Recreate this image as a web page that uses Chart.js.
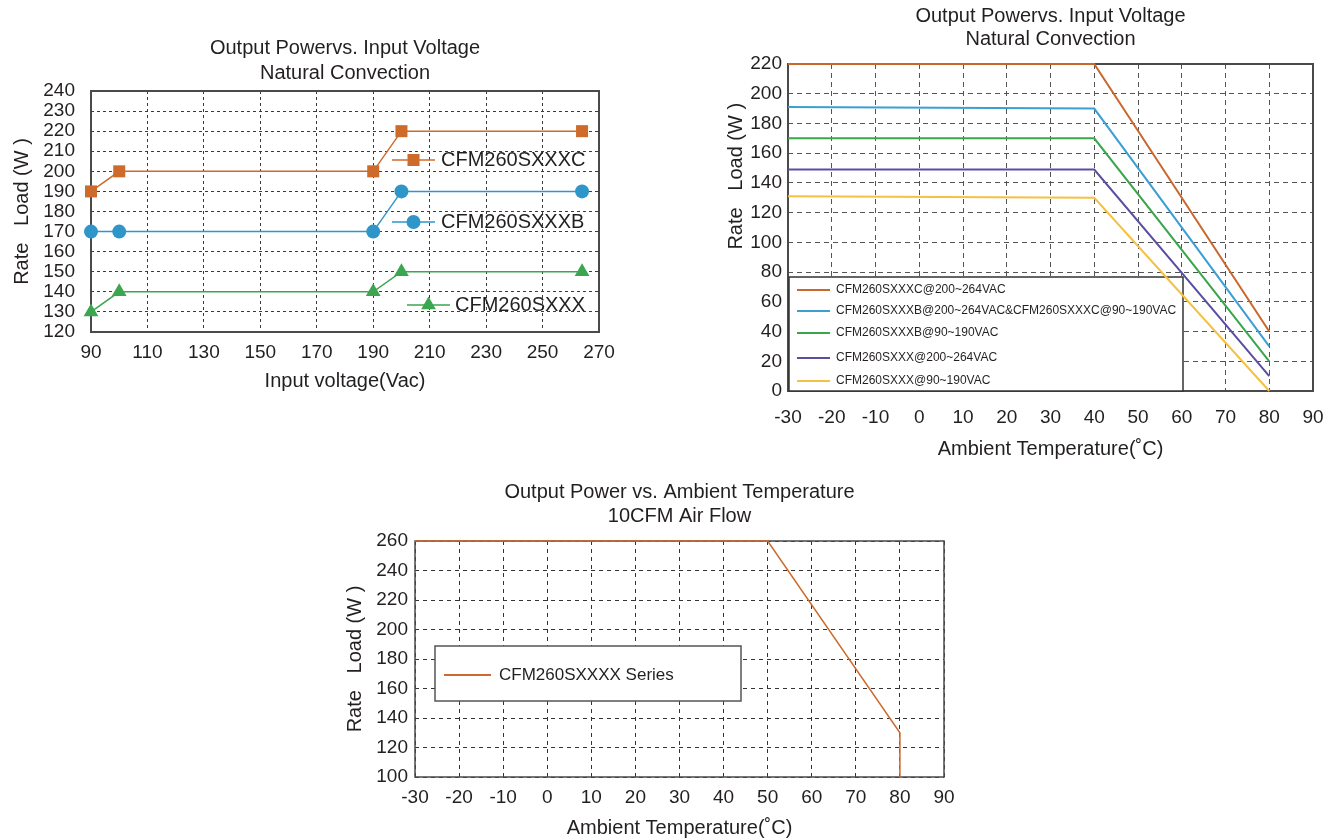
<!DOCTYPE html>
<html>
<head>
<meta charset="utf-8">
<title>CFM260S Derating Curves</title>
<script src="https://cdn.jsdelivr.net/npm/chart.js"></script>
<style>
  body { margin: 0; background: #fff; }
  .page { position: relative; width: 1340px; height: 840px; }
  canvas { position: absolute; }
  #vinChart { left: 0; top: 0; }
  #tempChart { left: 700px; top: 0; }
  #airChart { left: 330px; top: 470px; }
</style>
</head>
<body>
<div class="page">
  <canvas id="vinChart" width="640" height="400"></canvas>
  <canvas id="tempChart" width="640" height="470"></canvas>
  <canvas id="airChart" width="660" height="370"></canvas>
</div>

<script>
// ---- data: load vs input voltage (natural convection)
const vinVolts = [90, 100, 190, 200, 264];
const vinLoadC = [190, 200, 200, 220, 220];
const vinLoadB = [170, 170, 170, 190, 190];
const vinLoadX = [130, 140, 140, 150, 150];
const vinNames = ['CFM260SXXXC', 'CFM260SXXXB', 'CFM260SXXX'];

// ---- data: load vs ambient temperature (natural convection)
const ambTemps = [-30, 40, 80];
const ambLoadC200 = [220, 220, 40];
const ambLoadB200 = [191, 190, 30];
const ambLoadB90 = [170, 170, 20];
const ambLoadX200 = [149, 149, 10];
const ambLoadX90 = [131, 130, 0];
const ambNames = [
  'CFM260SXXXC@200~264VAC',
  'CFM260SXXXB@200~264VAC&CFM260SXXXC@90~190VAC',
  'CFM260SXXXB@90~190VAC',
  'CFM260SXXX@200~264VAC',
  'CFM260SXXX@90~190VAC'
];

// ---- data: load vs ambient temperature (10CFM air flow)
const airTemps = [-30, 50, 80, 80];
const airLoad = [260, 260, 130, 100];
const airName = 'CFM260SXXXX Series';

const FONT = "'Liberation Sans', Arial, sans-serif";
const INK = '#231f20';

function pts(xs, ys) {
  return xs.map((x, i) => ({ x: x, y: ys[i] }));
}

// plot frame on all four sides
const framePlugin = {
  id: 'frame',
  beforeDatasetsDraw(chart, args, o) {
    const a = chart.chartArea;
    const ctx = chart.ctx;
    ctx.save();
    ctx.strokeStyle = o.color;
    ctx.lineWidth = o.width;
    ctx.strokeRect(a.left, a.top, a.right - a.left, a.bottom - a.top);
    ctx.restore();
  }
};

// floating keys with line + marker, placed inside the plot
const pointKey = {
  id: 'pointKey',
  afterDatasetsDraw(chart, args, o) {
    if (!o.items) return;
    const ctx = chart.ctx;
    o.items.forEach(it => {
      const ds = chart.data.datasets[it.index];
      ctx.save();
      ctx.strokeStyle = ds.borderColor;
      ctx.lineWidth = ds.borderWidth;
      ctx.beginPath();
      ctx.moveTo(it.x1, it.y);
      ctx.lineTo(it.x2, it.y);
      ctx.stroke();
      ctx.fillStyle = ds.backgroundColor;
      Chart.helpers.drawPoint(ctx, {
        pointStyle: ds.pointStyle, radius: ds.pointRadius, rotation: 0, borderWidth: 0
      }, (it.x1 + it.x2) / 2, it.y);
      ctx.fillStyle = INK;
      ctx.font = o.fontSize + 'px ' + FONT;
      ctx.textBaseline = 'middle';
      ctx.fillText(ds.label, it.textX, it.y);
      ctx.restore();
    });
  }
};

// boxed legend inside the plot
const boxKey = {
  id: 'boxKey',
  beforeDatasetsDraw(chart, args, o) {
    if (!o.items) return;
    const ctx = chart.ctx;
    ctx.save();
    ctx.fillStyle = '#fff';
    ctx.fillRect(o.left, o.top, o.width, o.height);
    ctx.strokeStyle = o.border;
    ctx.lineWidth = o.borderWidth;
    ctx.strokeRect(o.left, o.top, o.width, o.height);
    ctx.font = o.fontSize + 'px ' + FONT;
    ctx.textBaseline = 'middle';
    o.items.forEach(it => {
      const ds = chart.data.datasets[it.index];
      ctx.strokeStyle = ds.borderColor;
      ctx.lineWidth = 2;
      ctx.beginPath();
      ctx.moveTo(o.lineX1, it.y);
      ctx.lineTo(o.lineX2, it.y);
      ctx.stroke();
      ctx.fillStyle = INK;
      ctx.fillText(ds.label, o.textX, it.y);
    });
    ctx.restore();
  }
};

function tickOpts(step, pad) {
  return { stepSize: step, padding: pad, autoSkip: false, maxRotation: 0,
           color: INK, font: { family: FONT, size: 19 } };
}

// ================= chart 1 =================
const ORANGE = '#cf6b2a', BLUE = '#2f96c9', GREEN = '#3aa64f';

new Chart(document.getElementById('vinChart'), {
  type: 'line',
  data: {
    datasets: [
      { label: vinNames[0], data: pts(vinVolts, vinLoadC), borderColor: ORANGE, backgroundColor: ORANGE,
        borderWidth: 1.5, pointStyle: 'rect', pointRadius: 8.5, pointBorderWidth: 0, clip: false },
      { label: vinNames[1], data: pts(vinVolts, vinLoadB), borderColor: BLUE, backgroundColor: BLUE,
        borderWidth: 1.5, pointStyle: 'circle', pointRadius: 7, pointBorderWidth: 0, clip: false },
      { label: vinNames[2], data: pts(vinVolts, vinLoadX), borderColor: GREEN, backgroundColor: GREEN,
        borderWidth: 1.5, pointStyle: 'triangle', pointRadius: 8.5, pointBorderWidth: 0, clip: false }
    ]
  },
  options: {
    responsive: false,
    animation: false,
    layout: { padding: { left: 0, right: 41, top: 0, bottom: 0 } },
    plugins: {
      legend: { display: false },
      tooltip: { enabled: false },
      title: {
        display: true, fullSize: false,
        text: ['Output Powervs. Input Voltage', 'Natural Convection'],
        color: INK, font: { family: FONT, size: 20, weight: 'normal', lineHeight: 1.25 },
        padding: { top: 35.5, bottom: 5.5 }
      },
      frame: { color: '#4a4a4a', width: 2 },
      pointKey: {
        fontSize: 20,
        items: [
          { index: 0, x1: 392, x2: 435, y: 160, textX: 441 },
          { index: 1, x1: 392, x2: 435, y: 222, textX: 441 },
          { index: 2, x1: 407, x2: 450, y: 305, textX: 455 }
        ]
      }
    },
    scales: {
      x: {
        type: 'linear', min: 90, max: 270,
        ticks: tickOpts(20, 9),
        grid: { color: '#3a3a3a', lineWidth: 1, drawTicks: false },
        border: { display: false, dash: [3, 3] },
        title: { display: true, text: 'Input voltage(Vac)', color: INK,
                 font: { family: FONT, size: 20 }, padding: { top: 0, bottom: 7 } },
        afterFit(scale) { scale.height = 68; }
      },
      y: {
        min: 120, max: 240,
        ticks: tickOpts(10, 16),
        grid: { color: '#3a3a3a', lineWidth: 1, drawTicks: false },
        border: { display: false, dash: [3, 3] },
        title: { display: true, text: 'Rate   Load (W )', color: INK,
                 font: { family: FONT, size: 20 }, padding: { top: 10, bottom: 0 } },
        afterFit(scale) { scale.width = 91; }
      }
    }
  },
  plugins: [framePlugin, pointKey]
});

// ================= chart 2 =================
const ambColors = ['#c9682c', '#3b9fd4', '#3aa64b', '#5a4ea1', '#f4c142'];
const ambSeries = [ambLoadC200, ambLoadB200, ambLoadB90, ambLoadX200, ambLoadX90];

new Chart(document.getElementById('tempChart'), {
  type: 'line',
  data: {
    datasets: ambSeries.map((s, i) => ({
      label: ambNames[i], data: pts(ambTemps, s),
      borderColor: ambColors[i], backgroundColor: ambColors[i],
      borderWidth: 2, pointRadius: 0, clip: false
    }))
  },
  options: {
    responsive: false,
    animation: false,
    layout: { padding: { left: 0, right: 27, top: 0, bottom: 0 } },
    plugins: {
      legend: { display: false },
      tooltip: { enabled: false },
      title: {
        display: true, fullSize: false,
        text: ['Output Powervs. Input Voltage', 'Natural Convection'],
        color: INK, font: { family: FONT, size: 20, weight: 'normal', lineHeight: 1.15 },
        padding: { top: 4.5, bottom: 13.5 }
      },
      frame: { color: '#4a4a4a', width: 2 },
      boxKey: {
        left: 89, top: 277, width: 394, height: 114,
        border: '#333', borderWidth: 1.5, fontSize: 12,
        lineX1: 97, lineX2: 130, textX: 136,
        items: [
          { index: 0, y: 290 },
          { index: 1, y: 311 },
          { index: 2, y: 333 },
          { index: 3, y: 358 },
          { index: 4, y: 381 }
        ]
      }
    },
    scales: {
      x: {
        type: 'linear', min: -30, max: 90,
        ticks: tickOpts(10, 15),
        grid: { color: '#555', lineWidth: 1, drawTicks: false },
        border: { display: false, dash: [5, 4] },
        title: { display: true, text: 'Ambient Temperature(˚C)', color: INK,
                 font: { family: FONT, size: 20 }, padding: { top: 0, bottom: 9 } },
        afterFit(scale) { scale.height = 79; }
      },
      y: {
        min: 0, max: 220,
        ticks: tickOpts(20, 6),
        grid: { color: '#555', lineWidth: 1, drawTicks: false },
        border: { display: false, dash: [5, 4] },
        title: { display: true, align: 'end', text: 'Rate   Load (W )       ', color: INK,
                 font: { family: FONT, size: 20 }, padding: { top: 24, bottom: 0 } },
        afterFit(scale) { scale.width = 88; }
      }
    }
  },
  plugins: [framePlugin, boxKey]
});

// ================= chart 3 =================
const AIR = '#cc6c2c';

new Chart(document.getElementById('airChart'), {
  type: 'line',
  data: {
    datasets: [
      { label: airName, data: pts(airTemps, airLoad), borderColor: AIR, backgroundColor: AIR,
        borderWidth: 1.5, pointRadius: 0, clip: false }
    ]
  },
  options: {
    responsive: false,
    animation: false,
    layout: { padding: { left: 0, right: 46, top: 0, bottom: 0 } },
    plugins: {
      legend: { display: false },
      tooltip: { enabled: false },
      title: {
        display: true, fullSize: false,
        text: ['Output Power vs. Ambient Temperature', '10CFM Air Flow'],
        color: INK, font: { family: FONT, size: 20, weight: 'normal', lineHeight: 1.2 },
        padding: { top: 10, bottom: 13 }
      },
      frame: { color: '#4a4a4a', width: 1.5 },
      boxKey: {
        left: 105, top: 176, width: 306, height: 55,
        border: '#555', borderWidth: 1.5, fontSize: 17,
        lineX1: 114, lineX2: 161, textX: 169,
        items: [{ index: 0, y: 205 }]
      }
    },
    scales: {
      x: {
        type: 'linear', min: -30, max: 90,
        ticks: tickOpts(10, 9.5),
        grid: { color: '#333', lineWidth: 1, drawTicks: false },
        border: { display: false, dash: [4, 4] },
        title: { display: true, text: 'Ambient Temperature(˚C)', color: INK,
                 font: { family: FONT, size: 20 }, padding: { top: 0, bottom: 0 } },
        afterFit(scale) { scale.height = 63; }
      },
      y: {
        min: 100, max: 260,
        ticks: tickOpts(20, 7),
        grid: { color: '#333', lineWidth: 1, drawTicks: false },
        border: { display: false, dash: [4, 4] },
        title: { display: true, text: 'Rate   Load (W )', color: INK,
                 font: { family: FONT, size: 20 }, padding: { top: 13, bottom: 0 } },
        afterFit(scale) { scale.width = 85; }
      }
    }
  },
  plugins: [framePlugin, boxKey]
});
</script>
</body>
</html>
